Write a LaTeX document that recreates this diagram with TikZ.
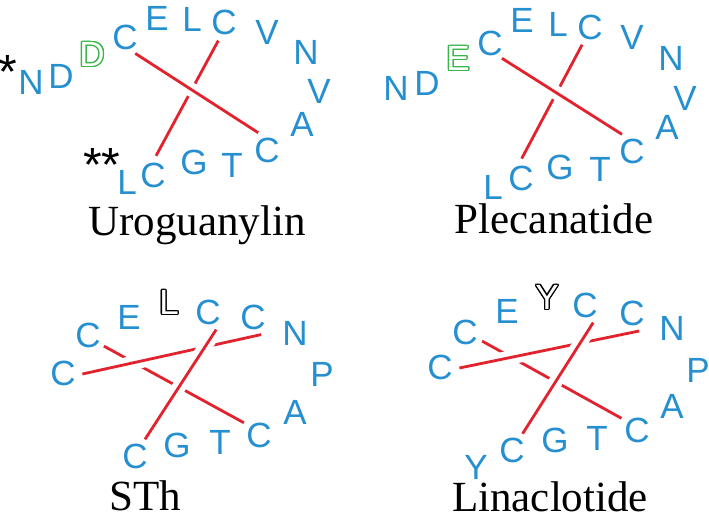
\documentclass[tikz,border=0pt]{standalone}
\usepackage{fontspec}
\usepackage{contour}
\setmainfont{Liberation Serif}
\newfontfamily\aafont{Liberation Sans}
\definecolor{aablue}{RGB}{38,143,208}
\definecolor{ssred}{RGB}{226,35,45}
\definecolor{subgreen}{RGB}{57,181,74}
\contourlength{0.65pt}
\newcommand{\hollow}[2]{{\color{white}\contour{#1}{#2}}}
\tikzset{aa/.style={text=aablue,font=\aafont\fontsize{17.5}{17.5}\selectfont,inner sep=0pt},
         cys/.style={aa,circle,inner sep=0pt,minimum size=19pt},
         star/.style={font=\aafont\fontsize{24}{24}\selectfont,anchor=north,inner sep=0pt},
         bond/.style={draw=ssred,line width=1.4pt},
         gap/.style={draw=white,line width=7pt,shorten <=6pt,shorten >=6pt},
         title/.style={font=\fontsize{21.5}{21.5}\selectfont,anchor=base,inner sep=0pt}}

\begin{document}
\begin{tikzpicture}[x=0.5pt,y=-0.5pt]
        \useasboundingbox(0,0)rectangle(709,517);

        % Uroguanylin
        \node[star](uS1)at(8,55){*};
        \node[aa](uN1)at(31,82){N};
        \node[aa](uD1)at(61,76){D};
        \node[aa](uD2)at(92,55){\hollow{subgreen}{D}};
        \node[cys](uC1)at(125,37){C};
        \node[aa](uE)at(157,18){E};
        \node[aa](uL1)at(192,19){L};
        \node[cys](uC2)at(224,22){C};
        \node[aa](uV1)at(267,32){V};
        \node[aa](uN2)at(306,52){N};
        \node[aa](uV2)at(319,91){V};
        \node[aa](uA)at(302,124){A};
        \node[cys](uC4)at(267,150){C};
        \node[aa](uT)at(232,165){T};
        \node[aa](uG)at(194,162){G};
        \node[cys](uC3)at(153,175){C};
        \node[aa](uL2)at(127,182){L};
        \node[star](uS2)at(102,148){**};
        \node[title](uName)at(197,236){Uroguanylin};

        \draw[bond](uC2.-107)--(uC3.81);
        \draw[gap](uC1.-58)--(uC4.117);
        \draw[bond](uC1.-58)--(uC4.117);

        % Plecanatide
        \node[aa](pN1)at(396,88){N};
        \node[aa](pD)at(427,83){D};
        \node[aa](pE1)at(458,59){\hollow{subgreen}{E}};
        \node[cys](pC1)at(490,43){C};
        \node[aa](pE2)at(522,20){E};
        \node[aa](pL1)at(558,24){L};
        \node[cys](pC2)at(590,27){C};
        \node[aa](pV1)at(632,37){V};
        \node[aa](pN2)at(671,58){N};
        \node[aa](pV2)at(685,98){V};
        \node[aa](pA)at(667,127){A};
        \node[cys](pC4)at(632,151){C};
        \node[aa](pT)at(600,169){T};
        \node[aa](pG)at(560,167){G};
        \node[cys](pC3)at(521,178){C};
        \node[aa](pL2)at(493,187){L};
        \node[title](pName)at(554,234){Plecanatide};

        \draw[bond](pC2.-114)--(pC3.88);
        \draw[gap](pC1.-52)--(pC4.121);
        \draw[bond](pC1.-52)--(pC4.121);

        % STh
        \node[cys](sC1)at(63,373){C};
        \node[cys](sC2)at(88,335){C};
        \node[aa](sE)at(129,317){E};
        \node[aa](sL)at(169,303){\hollow{black}{L}};
        \node[cys](sC3)at(208,312){C};
        \node[cys](sC4)at(253,317){C};
        \node[aa](sN)at(295,333){N};
        \node[aa](sP)at(322,374){P};
        \node[aa](sA)at(295,412){A};
        \node[cys](sC5)at(259,435){C};
        \node[aa](sT)at(220,442){T};
        \node[aa](sG)at(177,445){G};
        \node[cys](sC6)at(135,456){C};
        \node[title](sName)at(145,511){STh};

        \draw[bond](sC2.-35)--(sC5.141);
        \draw[gap](sC1.-3)--(sC4.-65);
        \draw[bond](sC1.-3)--(sC4.-65);
        \draw[gap](sC3.-65)--(sC6.59);
        \draw[bond](sC3.-65)--(sC6.59);

        % Linaclotide
        \node[cys](lC1)at(440,367){C};
        \node[cys](lC2)at(465,332){C};
        \node[aa](lE)at(507,311){E};
        \node[aa](lY1)at(547,298){\hollow{black}{Y}};
        \node[cys](lC3)at(585,305){C};
        \node[cys](lC4)at(632,313){C};
        \node[aa](lN)at(672,328){N};
        \node[aa](lP)at(698,370){P};
        \node[aa](lA)at(672,406){A};
        \node[cys](lC5)at(637,430){C};
        \node[aa](lT)at(597,438){T};
        \node[aa](lG)at(555,440){G};
        \node[cys](lC6)at(512,450){C};
        \node[aa](lY2)at(476,467){Y};
        \node[title](lName)at(550,512){Linaclotide};

        \draw[bond](lC2.-28)--(lC5.143);
        \draw[gap](lC1.-3)--(lC4.-68);
        \draw[bond](lC1.-3)--(lC4.-68);
        \draw[gap](lC3.-65)--(lC6.57);
        \draw[bond](lC3.-65)--(lC6.57);
    \end{tikzpicture}
\end{document}
